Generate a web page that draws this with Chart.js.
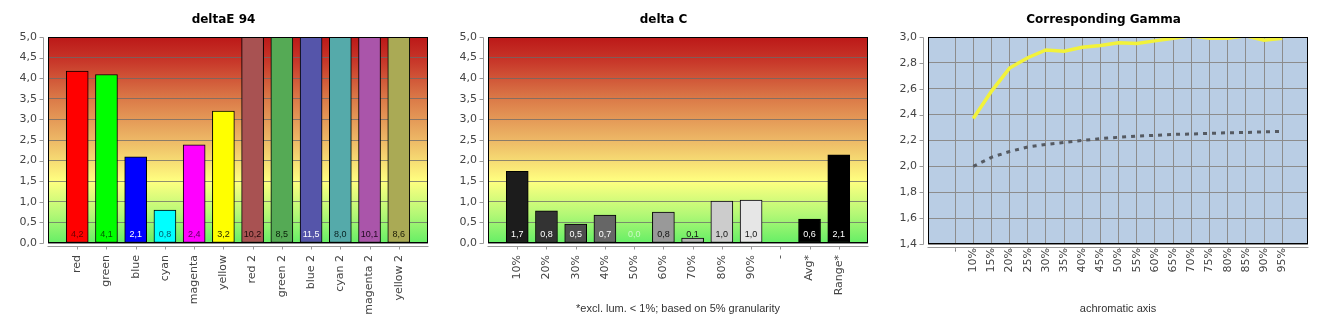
<!DOCTYPE html>
<html><head><meta charset="utf-8">
<script src="https://cdn.jsdelivr.net/npm/chart.js@4/dist/chart.umd.min.js"></script>
<style>
html,body{margin:0;padding:0;background:#fff;width:1330px;height:330px;overflow:hidden;}
canvas{position:absolute;top:0;}
</style></head><body>
<canvas id="c1" width="440" height="330" style="left:0px"></canvas>
<canvas id="c2" width="440" height="330" style="left:440px"></canvas>
<canvas id="c3" width="440" height="330" style="left:880px"></canvas>
<script>
// ---------- data ----------
const deltaECategories = ['red','green','blue','cyan','magenta','yellow','red 2','green 2','blue 2','cyan 2','magenta 2','yellow 2'];
const deltaEValues = [4.17,4.09,2.09,0.80,2.38,3.20,10.2,8.5,11.5,8.0,10.1,8.6];

const deltaCCategories = ['10%','20%','30%','40%','50%','60%','70%','80%','90%','-','Avg*','Range*'];
const deltaCValues = [1.74,0.78,0.46,0.68,0.0,0.75,0.12,1.02,1.04,null,0.58,2.14];

const gammaLabels = ['-','10%','15%','20%','25%','30%','35%','40%','45%','50%','55%','60%','65%','70%','75%','80%','85%','90%','95%'];
const gammaMeasured = [null,2.37,2.58,2.76,2.84,2.90,2.89,2.92,2.935,2.955,2.95,2.97,2.99,3.01,2.99,2.99,3.01,2.975,2.99];
const gammaTarget = [null,2.00,2.07,2.115,2.15,2.17,2.185,2.20,2.215,2.225,2.234,2.24,2.247,2.25,2.255,2.26,2.262,2.267,2.27];

const barYTicks = [0,0.5,1,1.5,2,2.5,3,3.5,4,4.5,5];
const gammaYTicks = [1.4,1.6,1.8,2.0,2.2,2.4,2.6,2.8,3.0];

// ---------- styles ----------
const deltaEColors = ['#ff0000','#00ff00','#0000ff','#00ffff','#ff00ff','#ffff00','#a85252','#55aa55','#5555aa','#55aaaa','#aa55aa','#aaaa55'];
const deltaELabelColors = ['#6a0000','#005a00','#ffffff','#005a6a','#5a005a','#2a2a00','#200808','#082008','#ffffff','#082020','#200820','#202008'];
const deltaCColors = ['#1c1c1c','#333333','#4d4d4d','#666666','#808080','#999999','#b3b3b3','#cccccc','#e6e6e6','#000000','#000000','#000000'];
const deltaCLabelColors = ['#ffffff','#ffffff','#ffffff','#ffffff','rgba(255,255,255,0.6)','#111111','#111111','#111111','#111111','#ffffff','#ffffff','#ffffff'];

const FONT = '"DejaVu Sans", Verdana, sans-serif';
const comma = v => Number(v).toFixed(1).replace('.', ',');

function makeFrame(cfg) {
  return {
    id: 'frame',
    beforeDraw(chart) {
      const {ctx, chartArea: a} = chart;
      ctx.save();
      if (cfg.gradient) {
        const g = ctx.createLinearGradient(0, a.top, 0, a.bottom);
        g.addColorStop(0.00, '#bc1818');
        g.addColorStop(0.12, '#c8382a');
        g.addColorStop(0.30, '#db7a48');
        g.addColorStop(0.50, '#edb866');
        g.addColorStop(0.70, '#ffff80');
        g.addColorStop(0.86, '#b4f876');
        g.addColorStop(1.00, '#66ee66');
        ctx.fillStyle = g;
      } else {
        ctx.fillStyle = cfg.fill;
      }
      ctx.fillRect(a.left, a.top, a.right - a.left, a.bottom - a.top);
      ctx.restore();
    },
    afterDatasetsDraw(chart) {
      const {ctx, chartArea: a, scales: {x, y}} = chart;
      ctx.save();
      if (cfg.labelColors) {
        const meta = chart.getDatasetMeta(0);
        const vals = chart.data.datasets[0].data;
        ctx.font = '9px "Liberation Sans", Arial, sans-serif';
        ctx.textAlign = 'center';
        ctx.textBaseline = 'middle';
        meta.data.forEach((bar, i) => {
          const v = vals[i];
          if (v === null || v === undefined) return;
          ctx.fillStyle = cfg.labelColors[i - 1] || '#000';
          ctx.fillText(comma(v), bar.x, a.bottom - 8);
        });
      }
      // frame
      ctx.strokeStyle = '#000';
      ctx.lineWidth = 1;
      const L = Math.round(a.left) + 0.5, T = Math.round(a.top) + 0.5;
      const R = Math.round(a.right) - 0.5, B = Math.round(a.bottom) - 0.5;
      ctx.strokeRect(L, T, R - L, B - T);
      // offset axes
      ctx.strokeStyle = '#9a9a9a';
      ctx.beginPath();
      const ax = L - 5;
      ctx.moveTo(ax, T); ctx.lineTo(ax, B + 1);
      y.ticks.forEach(t => {
        const py = Math.round(y.getPixelForValue(t.value)) + 0.5;
        ctx.moveTo(ax - 4, py); ctx.lineTo(ax, py);
      });
      const ay = B + 4;
      ctx.moveTo(L - 1, ay); ctx.lineTo(R + 1, ay);
      x.ticks.forEach((t, i) => {
        const lbl = cfg.tickLabels[i] || '';
        if (!lbl) return;
        const px = Math.round(x.getPixelForTick(i)) + 0.5;
        ctx.moveTo(px, ay); ctx.lineTo(px, ay + 3);
      });
      ctx.stroke();
      ctx.restore();
    }
  };
}

function fitX(h) {
  return s => { s.height = h; s.paddingLeft = 0; s.paddingRight = 0; };
}
function fitY(w) {
  return s => { s.width = w; };
}

function barChart(id, title, cats, vals, colors, labelColors, axisTitle) {
  const labels = ['', ...cats, ''];
  const data = [null, ...vals, null];
  const bg = [null, ...colors, null];
  new Chart(document.getElementById(id), {
    type: 'bar',
    data: {
      labels,
      datasets: [{
        data,
        backgroundColor: bg,
        borderColor: '#000000',
        borderWidth: 1,
        borderSkipped: false,
        barThickness: 22
      }]
    },
    options: {
      responsive: false,
      animation: false,
      events: [],
      layout: {padding: {left: 19, right: 12, top: 0, bottom: 0}},
      plugins: {
        legend: {display: false},
        tooltip: {enabled: false},
        title: {
          display: true, text: title, color: '#000',
          font: {family: FONT, size: 12, weight: 'bold'},
          padding: {top: 13, bottom: 9.6}
        }
      },
      scales: {
        x: {
          type: 'category',
          offset: false,
          grid: {display: false, offset: false},
          border: {display: false},
          ticks: {
            autoSkip: false, minRotation: 90, maxRotation: 90, padding: 4,
            color: '#444', font: {family: FONT, size: 11}
          },
          title: {
            display: !!axisTitle, text: axisTitle || '', color: '#333',
            font: {family: '"Liberation Sans", Arial, sans-serif', size: 11},
            padding: {top: 0, bottom: 14}
          },
          afterFit: fitX(87)
        },
        y: {
          min: 0, max: 5,
          afterBuildTicks: s => { s.ticks = barYTicks.map(v => ({value: v})); },
          grid: {color: 'rgba(105,105,105,0.75)', drawTicks: false},
          border: {display: false},
          ticks: {
            padding: 11, color: '#444', font: {family: FONT, size: 11},
            callback: v => comma(v)
          },
          afterFit: fitY(29)
        }
      }
    },
    plugins: [makeFrame({gradient: true, labelColors, tickLabels: labels})]
  });
}

barChart('c1', 'deltaE 94', deltaECategories, deltaEValues, deltaEColors, deltaELabelColors, '');
barChart('c2', 'delta C', deltaCCategories, deltaCValues, deltaCColors, deltaCLabelColors, '*excl. lum. < 1%; based on 5% granularity');

// ---------- gamma ----------
new Chart(document.getElementById('c3'), {
  type: 'line',
  data: {
    datasets: [
      {
        data: gammaLabels.map((l, i) => ({x: i, y: gammaMeasured[i]})),
        borderColor: '#f2f23a', borderWidth: 3.5, pointRadius: 0, tension: 0, fill: false
      },
      {
        data: gammaLabels.map((l, i) => ({x: i, y: gammaTarget[i]})),
        borderColor: '#555a62', borderWidth: 3, borderDash: [4, 5], pointRadius: 0, tension: 0, fill: false
      }
    ]
  },
  options: {
    responsive: false,
    animation: false,
    events: [],
    layout: {padding: {left: 19, right: 12, top: 0, bottom: 0}},
    plugins: {
      legend: {display: false},
      tooltip: {enabled: false},
      title: {
        display: true, text: 'Corresponding Gamma', color: '#000',
        font: {family: FONT, size: 12, weight: 'bold'},
        padding: {top: 13, bottom: 9.6}
      }
    },
    scales: {
      x: {
        type: 'linear', min: -1.49, max: 19.42,
        afterBuildTicks: s => { s.ticks = gammaLabels.map((l, i) => ({value: i})); },
        grid: {color: '#8c8c8c', drawTicks: false},
        border: {display: false},
        ticks: {
          autoSkip: false, minRotation: 90, maxRotation: 90, padding: 4,
          color: '#444', font: {family: FONT, size: 11},
          callback: v => gammaLabels[v]
        },
        title: {
          display: true, text: 'achromatic axis', color: '#333',
          font: {family: '"Liberation Sans", Arial, sans-serif', size: 11},
          padding: {top: 0, bottom: 14}
        },
        afterFit: fitX(86)
      },
      y: {
        min: 1.4, max: 3.0,
        afterBuildTicks: s => { s.ticks = gammaYTicks.map(v => ({value: v})); },
        grid: {color: '#8c8c8c', drawTicks: false},
        border: {display: false},
        ticks: {
          padding: 11, color: '#444', font: {family: FONT, size: 11},
          callback: v => comma(v)
        },
        afterFit: fitY(29)
      }
    }
  },
  plugins: [makeFrame({gradient: false, fill: '#b9cde4', tickLabels: gammaLabels})]
});
</script>
</body></html>
